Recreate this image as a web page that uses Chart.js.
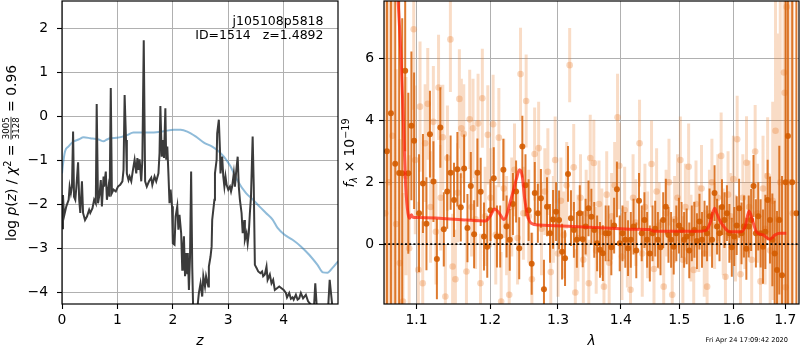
<!DOCTYPE html>
<html>
<head>
<meta charset="utf-8">
<script src="https://cdn.jsdelivr.net/npm/chart.js@4.4.1/dist/chart.umd.min.js"></script>
<style>
  html, body { margin: 0; padding: 0; background: #fff; }
  #wrap { position: relative; width: 800px; height: 350px; overflow: hidden; }
  canvas { position: absolute; top: 0; }
  #pzChart { left: 0; }
  #specChart { left: 340px; }
</style>
</head>
<body>
<div id="wrap">
  <canvas id="pzChart" width="340" height="350"></canvas>
  <canvas id="specChart" width="460" height="350"></canvas>
</div>
<script>
/* ============================================================
   Redshift fit figure: p(z) on the left, 1D spectrum on the right
   ============================================================ */

// ── Left panel: log p(z) and scaled chi2 ─────────────────────
const zTicks  = [0, 1, 2, 3, 4];
const pzTicks = [-4, -3, -2, -1, 0, 1, 2];

const pzZ = [
  0, 0.018, 0.036, 0.078, 0.12, 0.138, 0.16, 0.18, 0.2, 0.217,
  0.24, 0.26, 0.29, 0.31, 0.33, 0.36, 0.38, 0.415, 0.45, 0.49,
  0.51, 0.55, 0.58, 0.61, 0.626, 0.65, 0.68, 0.70, 0.72, 0.75,
  0.76, 0.79, 0.81, 0.84, 0.86, 0.88, 0.90, 0.93, 0.97, 1.01,
  1.05, 1.09, 1.11, 1.13, 1.155, 1.17, 1.20, 1.22, 1.25, 1.28,
  1.31, 1.34, 1.36, 1.38, 1.40, 1.43, 1.45, 1.475, 1.50, 1.53,
  1.57, 1.61, 1.63, 1.67, 1.70, 1.74, 1.76, 1.775, 1.80, 1.82,
  1.84, 1.865, 1.88, 1.90, 1.92, 1.94, 1.96, 1.985, 2.0, 2.03,
  2.05, 2.08, 2.10, 2.12, 2.15, 2.17, 2.18, 2.20, 2.22, 2.24,
  2.26, 2.27, 2.29, 2.31, 2.33, 2.35, 2.37, 2.40, 2.43, 2.45,
  2.47, 2.50, 2.53, 2.55, 2.58, 2.60, 2.64, 2.65, 2.68, 2.70,
  2.71, 2.73, 2.75, 2.76, 2.79, 2.80, 2.83, 2.85, 2.86, 2.89,
  2.91, 2.93, 2.95, 2.97, 3.0, 3.03, 3.05, 3.07, 3.10, 3.12,
  3.14, 3.17, 3.19, 3.21, 3.24, 3.26, 3.29, 3.30, 3.33, 3.35,
  3.37, 3.39, 3.41, 3.44, 3.46, 3.48, 3.51, 3.54, 3.58, 3.61,
  3.63, 3.66, 3.69, 3.71, 3.75, 3.78, 3.81, 3.84, 3.88, 3.92,
  3.96, 4.0, 4.04, 4.06, 4.1, 4.13, 4.16, 4.18, 4.22, 4.25,
  4.28, 4.31, 4.35, 4.4, 4.44, 4.48, 4.51, 4.54, 4.57, 4.6,
  4.65, 4.7, 4.75, 4.8, 4.83, 4.86, 4.9, 4.95, 4.98
];
const pzLog = [
  -2.55, -1.79, -2.28, -2.05, -1.9, -1.6, -1.75, -1.6, -0.35, -1.83,
  -1.9, -1.6, -1.05, -1.9, -2.2, -1.48, -2.2, -2.36, -2.28, -2.13,
  -2.2, -2.09, -1.9, -1.98, 0.28, -1.98, -1.75, -1.45, -2.05, -1.37,
  -1.6, -1.26, -1.9, -1.6, -1.83, 0.64, -1.75, -1.67, -1.71, -1.6,
  -1.56, -1.48, -1.22, 0.48, -0.54, -1.3, -1.45, -1.37, -1.48, -1.22,
  -0.99, -1.3, -0.95, -1.22, -0.98, -1.48, -0.99, 1.73, -1.48, -1.6,
  -1.48, -1.4, -1.56, -1.37, -1.48, -1.3, -0.84, 0.23, -0.92, -0.54,
  -0.95, 0.18, -0.99, -0.69, -1.3, -1.98, -1.67, -2.05, -2.89, -2.92,
  -2.28, -2.05, -2.58, -2.24, -2.66, -3.49, -3.11, -2.73, -3.64, -3.11,
  -3.57, -3.11, -3.95, -3.19, -1.26, -3.42, -4.6, -4.8, -4.5, -4.27,
  -4.02, -3.8, -4.1, -3.64, -3.87, -3.64, -3.87, -3.42, -3.19, -2.96,
  -2.36, -2.13, -1.9, -1.3, -0.99, -0.39, -0.08, -0.77, -1.3, -0.92,
  -1.37, -1.6, -1.37, -1.56, -1.67, -1.6, -1.71, -1.6, -1.3, -1.6,
  -1.3, -0.92, -1.6, -1.9, -2.2, -2.66, -2.36, -2.81, -2.66, -2.89,
  -2.66, -2.2, -1.83, -0.46, -1.6, -3.38, -3.45, -3.53, -3.57, -3.53,
  -3.64, -3.6, -3.42, -3.72, -3.6, -3.8, -3.72, -3.95, -3.91, -3.87,
  -3.91, -3.95, -4.02, -4.12, -4.02, -4.15, -4.12, -4.17, -4.06, -4.17,
  -4.14, -4.02, -4.14, -4.06, -4.21, -4.27, -4.3, -4.5, -3.8, -4.4,
  -4.7, -4.8, -4.7, -4.4, -3.72, -4.1, -4.6, -4.7, -4.8
];

const chiZ = [
  0, 0.013, 0.054, 0.115, 0.2, 0.3, 0.39, 0.51, 0.66, 0.75,
  0.81, 0.87, 0.99, 1.08, 1.17, 1.29, 1.44, 1.655, 1.835, 2.02,
  2.14, 2.26, 2.41, 2.56, 2.71, 2.83, 2.92, 3.04, 3.16, 3.32,
  3.44, 3.56, 3.68, 3.8, 3.89, 4.01, 4.16, 4.31, 4.46, 4.61,
  4.71, 4.79, 4.88, 4.98
];
const chiVal = [
  -1.3, -1.14, -0.80, -0.69, -0.58, -0.53, -0.48, -0.50, -0.53, -0.57,
  -0.53, -0.50, -0.49, -0.47, -0.43, -0.37, -0.37, -0.37, -0.34, -0.31,
  -0.31, -0.35, -0.46, -0.60, -0.69, -0.80, -0.92, -1.14, -1.45, -1.75,
  -1.89, -2.05, -2.2, -2.35, -2.54, -2.69, -2.81, -2.96, -3.15, -3.38,
  -3.55, -3.56, -3.45, -3.3
];

const fieldName = "j105108p5818";
const idLine    = "ID=1514   z=1.4892";

// ── Right panel: spectrum ─────────────────────────────────────
const waveTicks = [1.1, 1.2, 1.3, 1.4, 1.5, 1.6, 1.7];
const fluxTicks = [0, 2, 4, 6];

// dark points (first grism) with 1-sigma errors
const darkWave = [
  1.0624, 1.0674, 1.0728, 1.0778, 1.0817, 1.0855, 1.0895, 1.0935, 1.0970, 1.1034,
  1.1085, 1.1131, 1.1177, 1.1223, 1.1269, 1.1315, 1.1361, 1.1407, 1.1453, 1.1499,
  1.1545, 1.1591, 1.1637, 1.1683, 1.1729, 1.1775, 1.1821, 1.1867, 1.1913, 1.1959,
  1.2005, 1.2051, 1.2097, 1.2143, 1.2189, 1.2235, 1.2281, 1.2327, 1.2373, 1.2419,
  1.2465, 1.2511, 1.2557, 1.2603, 1.2649, 1.2695, 1.2741, 1.2787, 1.2833, 1.2879,
  1.2925, 1.2971, 1.3017, 1.3063, 1.3109, 1.3155, 1.3201, 1.3247, 1.3293, 1.3339,
  1.3385, 1.3431, 1.3477, 1.3523, 1.3569, 1.3615, 1.3661, 1.3707, 1.3753, 1.3799,
  1.3845, 1.3891, 1.3937, 1.3983, 1.4029, 1.4075, 1.4121, 1.4167, 1.4213, 1.4259,
  1.4305, 1.4351, 1.4397, 1.4443, 1.4489, 1.4535, 1.4581, 1.4627, 1.4673, 1.4719,
  1.4765, 1.4811, 1.4857, 1.4903, 1.4949, 1.4995, 1.5041, 1.5087, 1.5133, 1.5179,
  1.5225, 1.5271, 1.5317, 1.5363, 1.5409, 1.5455, 1.5501, 1.5547, 1.5593, 1.5639,
  1.5685, 1.5731, 1.5777, 1.5823, 1.5869, 1.5915, 1.5961, 1.6007, 1.6053, 1.6099,
  1.6145, 1.6191, 1.6237, 1.6283, 1.6329, 1.6375, 1.6421, 1.6467, 1.6513, 1.6559,
  1.6605, 1.6651, 1.6697, 1.6743, 1.6789, 1.6835, 1.6881, 1.6935, 1.7006, 1.7053,
  1.7140, 1.7225
];
const darkFlux = [
  3.0, 4.23, 2.6, 2.3, 2.29, 5.6, 2.29, 3.82, 3.34, 1.0,
  1.96, 0.66, 3.55, 2.02, -0.48, 3.77, 0.48, 1.7, 2.31, 1.43,
  2.42, 1.19, 2.44, 0.52, 1.88, 0.32, 2.31, 1.69, 0.25, -0.08,
  1.1, 2.13, 0.25, 0.25, 2.4, 0.57, 0.14, 1.3, 1.7, -0.13,
  3.15, 1.9, 1.1, -0.63, 1.65, 1.0, 1.48, -1.45, 1.21, 0.35,
  0.8, 1.05, 0.78, -0.24, -0.45, 2.27, 0.84, 0.46, 0.14, 1.0,
  0.16, 0.57, 1.16, 0.89, 0.46, 0.03, -0.18, -0.29, 0.35, 0.35,
  -0.1, 0.6, 1.77, 0.03, 0.35, 0.14, -0.13, 0.14, 0.57, -0.2,
  1.4, 0.35, 0.78, 0.14, -0.3, 0.35, 0.5, 0.14, -0.1, 0.78,
  1.21, 0.3, 0.14, -0.08, 0.35, 0.6, 0.46, 0.14, 0.25, -0.2,
  0.35, 0.46, 0.1, 0.73, 0.14, 0.5, 0.35, 0.9, 0.14, 1.65,
  0.57, 0.35, 1.2, 0.78, 1.0, 0.35, -0.1, 0.25, 0.6, 1.16,
  0.35, 0.57, -0.15, 0.57, 0.78, 1.88, 0.35, 0.9, 0.35, -0.08,
  0.4, 1.43, 0.78, 0.14, -0.3, -0.83, 0.78, -1.0, 2.0, 3.49,
  2.0, 1.0
];
const darkErr = [
  15, 12, 9, 7, 5, 2.6, 2.6, 2.4, 2.2, 1.9,
  1.6, 1.5, 1.4, 1.3, 1.3, 1.3, 1.2, 1.2, 1.2, 1.2,
  1.2, 1.1, 1.1, 1.1, 1.1, 1.1, 1.1, 1.1, 1.1, 1.0,
  1.0, 1.0, 1.0, 1.0, 1.0, 1.0, 1.0, 1.0, 1.0, 1.0,
  1.0, 1.0, 1.0, 1.0, 1.0, 0.95, 0.95, 0.95, 0.95, 0.95,
  0.95, 0.95, 0.95, 0.9, 0.9, 0.9, 0.9, 0.9, 0.9, 0.9,
  0.9, 0.9, 0.9, 0.9, 0.9, 0.9, 0.9, 0.9, 0.9, 0.9,
  0.9, 0.9, 0.9, 0.9, 0.9, 0.9, 0.9, 0.9, 0.9, 0.9,
  0.9, 0.9, 0.9, 0.9, 0.9, 0.9, 0.9, 0.9, 0.9, 0.9,
  0.9, 0.9, 0.9, 0.9, 0.9, 0.9, 0.9, 0.9, 0.9, 0.9,
  0.9, 0.9, 0.9, 0.9, 0.9, 0.9, 0.9, 0.9, 0.9, 0.9,
  0.9, 0.9, 0.9, 0.9, 0.9, 0.95, 0.95, 0.95, 0.95, 0.95,
  1.0, 1.0, 1.0, 1.0, 1.0, 1.0, 1.1, 1.1, 1.1, 1.2,
  1.2, 1.3, 1.4, 1.5, 1.7, 1.9, 2.4, 3.2, 9, 10,
  14, 18
];

// light points (other orient.) with 1-sigma errors
const lightWave = [
  1.0602, 1.0648, 1.0694, 1.0740, 1.0786, 1.0827, 1.0866, 1.0906, 1.0965, 1.0985,
  1.1025, 1.1047, 1.1082, 1.1114, 1.1148, 1.1185, 1.1222, 1.1256, 1.1291, 1.1320,
  1.1348, 1.1382, 1.1410, 1.1450, 1.1480, 1.1518, 1.1549, 1.1572, 1.1599, 1.1632,
  1.1669, 1.1714, 1.1740, 1.1760, 1.1795, 1.1830, 1.1864, 1.1890, 1.1930, 1.1967,
  1.2005, 1.2042, 1.2080, 1.2124, 1.2157, 1.2195, 1.2235, 1.2273, 1.2310, 1.2350,
  1.2395, 1.2438, 1.2480, 1.2521, 1.2560, 1.2606, 1.2647, 1.2707, 1.2750, 1.2800,
  1.2846, 1.2890, 1.2930, 1.2957, 1.3000, 1.3045, 1.3090, 1.3135, 1.3181, 1.3244,
  1.3269, 1.3310, 1.3350, 1.3395, 1.3440, 1.3482, 1.3505, 1.3562, 1.3600, 1.3645,
  1.3690, 1.3725, 1.3770, 1.3810, 1.3850, 1.3900, 1.3947, 1.3975, 1.4020, 1.4065,
  1.4110, 1.4162, 1.4205, 1.4250, 1.4314, 1.4360, 1.4405, 1.4450, 1.4518, 1.4560,
  1.4605, 1.4650, 1.4728, 1.4770, 1.4820, 1.4877, 1.4920, 1.4970, 1.5020, 1.5065,
  1.5110, 1.5168, 1.5210, 1.5259, 1.5300, 1.5350, 1.5400, 1.5450, 1.5502, 1.5545,
  1.5590, 1.5640, 1.5700, 1.5761, 1.5800, 1.5841, 1.5890, 1.5940, 1.5990, 1.6030,
  1.6062, 1.6125, 1.6170, 1.6210, 1.6240, 1.6290, 1.6340, 1.6407, 1.6450, 1.6511,
  1.6560, 1.6600, 1.6650, 1.6700, 1.6750, 1.6806, 1.6850, 1.6900, 1.6974, 1.6988,
  1.7006, 1.7030, 1.7080, 1.7150
];
const lightFlux = [
  1.0, 2.0, 3.5, 0.65, -0.61, -1.85, 2.2, -0.13, 6.94, 2.72,
  -0.83, 4.44, -1.26, 3.26, 4.53, 1.2, 3.95, 0.4, 5.06, 1.5,
  3.45, -1.69, 2.78, 6.61, -0.72, -1.13, 1.66, 4.69, 3.74, 3.56,
  -0.88, 4.03, 1.2, 3.74, 0.8, 3.9, -1.26, 4.71, 0.9, 3.53,
  1.5, 3.87, 0.3, 3.44, -1.85, 1.8, 0.6, -1.63, 1.2, 2.4,
  0.2, 5.49, 1.0, 4.62, 0.9, -1.13, 2.91, 3.1, 0.5, 1.7,
  2.34, -0.9, 0.8, 2.72, -0.3, 1.4, 0.3, 1.9, 5.78, 2.48,
  -1.56, 0.2, 1.5, -0.5, 1.0, -1.26, 2.78, 2.62, -0.2, 1.3,
  0.4, -1.37, 1.6, -0.6, 0.9, 1.9, 4.1, 2.53, -0.4, 1.1,
  0.0, -1.47, 1.5, 0.7, 3.26, -0.3, 1.2, 0.3, 2.59, -0.8,
  1.7, 0.6, -1.37, 1.0, 2.0, -1.63, 0.8, 1.5, 2.72, -0.5,
  1.2, 2.5, 0.2, -0.83, 1.3, 0.5, 1.8, -0.3, -1.37, 1.0,
  2.0, 0.6, 1.5, 2.85, 0.4, -1.05, 1.6, 0.9, 2.1, 0.2,
  3.39, -0.97, 1.5, 0.6, 2.63, 1.2, -0.5, 2.99, 1.0, -1.2,
  1.8, 0.5, 2.2, -0.2, 1.4, 3.66, 0.8, 2.0, 5.54, 4.89,
  -1.39, 7.66, 2.0, 1.0
];
const lightErr = [
  16, 10, 7, 5, 4, 3.5, 3.2, 3.0, 2.6, 2.4,
  2.2, 2.1, 2.0, 1.9, 1.8, 1.8, 1.8, 1.7, 1.7, 1.7,
  1.7, 1.7, 1.7, 1.7, 1.7, 1.6, 1.6, 1.6, 1.6, 1.6,
  1.6, 1.6, 1.6, 1.6, 1.6, 1.6, 1.6, 1.6, 1.6, 1.6,
  1.6, 1.6, 1.6, 1.6, 1.6, 1.6, 1.6, 1.6, 1.6, 1.5,
  1.5, 1.5, 1.5, 1.5, 1.5, 1.5, 1.5, 1.5, 1.5, 1.4,
  1.4, 1.4, 1.4, 1.4, 1.4, 1.4, 1.4, 1.4, 1.2, 1.4,
  1.4, 1.4, 1.4, 1.4, 1.4, 1.4, 1.4, 1.4, 1.4, 1.4,
  1.4, 1.4, 1.4, 1.4, 1.4, 1.4, 1.4, 1.4, 1.4, 1.4,
  1.4, 1.4, 1.4, 1.4, 1.4, 1.4, 1.4, 1.4, 1.4, 1.4,
  1.4, 1.4, 1.4, 1.4, 1.4, 1.4, 1.4, 1.4, 1.4, 1.4,
  1.4, 1.4, 1.4, 1.4, 1.4, 1.4, 1.4, 1.4, 1.4, 1.4,
  1.4, 1.4, 1.4, 1.4, 1.4, 1.4, 1.4, 1.4, 1.4, 1.4,
  1.4, 1.4, 1.4, 1.4, 1.5, 1.5, 1.5, 1.5, 1.6, 1.6,
  1.7, 1.8, 1.9, 2.4, 3.2, 4.5, 6, 7, 8, 9,
  10, 10, 12, 15
];

// best-fit model
const modelWave = [
  1.072, 1.0764, 1.0807, 1.0837, 1.0862, 1.0891, 1.0913, 1.0935, 1.0955, 1.100,
  1.1305, 1.1667, 1.193, 1.2000, 1.2065, 1.2130, 1.2197, 1.2305, 1.2377, 1.2423,
  1.2463, 1.2497, 1.2546, 1.2596, 1.2720, 1.3230, 1.3762, 1.4204, 1.4500, 1.4560,
  1.5400, 1.5487, 1.5560, 1.5640, 1.5680, 1.5733, 1.5820, 1.5920, 1.6142, 1.6220,
  1.6288, 1.6350, 1.6431, 1.6559, 1.6691, 1.6800, 1.6889, 1.7020
];
const modelFlux = [
  9.5, 7.9, 5.73, 3.58, 1.86, 1.0, 0.84, 0.95, 0.87, 0.86,
  0.84, 0.78, 0.75, 0.9, 1.14, 1.0, 0.8, 1.5, 2.1, 2.4,
  2.2, 1.5, 0.9, 0.68, 0.62, 0.57, 0.52, 0.48, 0.47, 0.42,
  0.42, 0.45, 0.7, 1.16, 1.0, 0.78, 0.55, 0.40, 0.40, 0.6,
  1.07, 0.8, 0.4, 0.3, 0.16, 0.3, 0.35, 0.35
];

const stamp = "Fri Apr 24 17:09:42 2020";

// ── Style constants ──────────────────────────────────────────
const FONT = '"DejaVu Sans", sans-serif';
const FS = 13.9;
const GRID = "#b0b0b0";
const up = `${FS}px ${FONT}`;
const it = `italic ${FS}px ${FONT}`;
const small = `9.7px ${FONT}`;
const smallIt = `italic 9.7px ${FONT}`;
const fracFont = `8.6px ${FONT}`;

const Z_RANGE = [0, 4.98];
const PZ_RANGE = [-4.27, 2.62];
const WAVE_RANGE = [1.0587, 1.7278];
const FLUX_RANGE = [-1.93, 7.85];

// ── Helpers ──────────────────────────────────────────────────
const fmtTick = v => (v < 0 ? "\u2212" + Math.abs(v) : String(v));

function xy(xs, ys) {
    return xs.map((x, i) => ({ x, y: ys[i] }));
}

// vertical error segments, separated by gaps
function errSegments(xs, ys, es) {
    const out = [];
    xs.forEach((x, i) => {
        out.push({ x, y: ys[i] - es[i] }, { x, y: ys[i] + es[i] }, { x, y: null });
    });
    return out;
}

function runWidth(ctx, r) {
    ctx.font = r.font;
    if (r.frac) {
        return Math.max(ctx.measureText(r.frac[0]).width, ctx.measureText(r.frac[1]).width) + 2;
    }
    return ctx.measureText(r.text).width;
}

function drawRuns(ctx, runs, x, y) {
    runs.forEach(r => {
        const w = runWidth(ctx, r);
        ctx.font = r.font;
        if (r.frac) {
            ctx.textAlign = "center";
            ctx.fillText(r.frac[0], x + w / 2, y - 6.8);
            ctx.fillText(r.frac[1], x + w / 2, y + 3.0);
            ctx.fillRect(x + 0.5, y - 5.4, w - 1, 0.8);
            ctx.textAlign = "left";
        } else {
            ctx.fillText(r.text, x, y + (r.dy || 0));
        }
        x += w;
    });
}

function drawRotated(ctx, runs, bx, cy) {
    const total = runs.reduce((s, r) => s + runWidth(ctx, r), 0);
    ctx.save();
    ctx.translate(bx, cy);
    ctx.rotate(-Math.PI / 2);
    ctx.textAlign = "left";
    ctx.textBaseline = "alphabetic";
    drawRuns(ctx, runs, -total / 2, 0);
    ctx.restore();
}

function axisOpts(range, ticks, pad, extra) {
    return Object.assign({
        min: range[0],
        max: range[1],
        afterBuildTicks: s => { s.ticks = ticks.map(v => ({ value: v })); },
        grid: { color: GRID, lineWidth: 1, drawTicks: true, tickLength: 5, tickColor: "#000", tickWidth: 1.1 },
        border: { display: false },
        ticks: { color: "#000", font: { family: FONT, size: FS }, autoSkip: false, maxRotation: 0,
                 padding: pad, callback: fmtTick }
    }, extra);
}

// fixed axis box sizes, no automatic label padding
function fixHeight(h) {
    return s => { s.height = h; s.paddingLeft = 0; s.paddingRight = 0; s.paddingTop = 0; s.paddingBottom = 0; };
}
function fixWidth(w) {
    return s => { s.width = w; s.paddingLeft = 0; s.paddingRight = 0; s.paddingTop = 0; s.paddingBottom = 0; };
}

function boxFrame(ctx, a) {
    ctx.save();
    ctx.strokeStyle = "#000";
    ctx.lineWidth = 1.2;
    ctx.strokeRect(a.left, a.top, a.right - a.left, a.bottom - a.top);
    ctx.restore();
}

Chart.defaults.font.family = FONT;
Chart.defaults.color = "#000";

// ── Left chart ───────────────────────────────────────────────
const pzDecor = {
    id: "pzDecor",
    afterDraw(chart) {
        const { ctx, chartArea: a } = chart;
        boxFrame(ctx, a);
        ctx.save();
        ctx.fillStyle = "#000";
        ctx.textBaseline = "alphabetic";
        ctx.textAlign = "right";
        ctx.font = `12.5px ${FONT}`;
        ctx.fillText(fieldName, 323.5, 24.5);
        ctx.fillText(idLine, 323.5, 39);
        ctx.textAlign = "center";
        ctx.font = it;
        ctx.fillText("z", (a.left + a.right) / 2, 345);
        drawRotated(ctx, [
            { text: "log", font: up },
            { text: " ", font: up },
            { text: "p", font: it },
            { text: "(", font: up },
            { text: "z", font: it },
            { text: ")", font: up },
            { text: " / ", font: up },
            { text: "\u03c7", font: it },
            { text: "2", font: small, dy: -5.5 },
            { text: " = ", font: up },
            { frac: ["3005", "3128"], font: fracFont },
            { text: " = 0.96", font: up }
        ], 16, 153);
        ctx.restore();
    }
};

new Chart(document.getElementById("pzChart"), {
    type: "line",
    data: {
        datasets: [
            {
                label: "log p(z)",
                data: xy(pzZ, pzLog),
                borderColor: "#3b3b3b",
                borderWidth: 2,
                pointRadius: 0,
                tension: 0,
                clip: 0,
                order: 1
            },
            {
                label: "chi2",
                data: xy(chiZ, chiVal),
                borderColor: "rgba(31,119,180,0.5)",
                borderWidth: 2,
                pointRadius: 0,
                cubicInterpolationMode: "monotone",
                clip: 0,
                order: 2
            }
        ]
    },
    options: {
        responsive: false,
        animation: false,
        devicePixelRatio: 1,
        events: [],
        layout: { autoPadding: false, padding: { top: 1, right: 2, left: 0, bottom: 0 } },
        plugins: { legend: { display: false }, tooltip: { enabled: false } },
        scales: {
            x: axisOpts(Z_RANGE, zTicks, 3, { type: "linear", afterFit: fixHeight(46) }),
            y: axisOpts(PZ_RANGE, pzTicks, 9, { type: "linear", afterFit: fixWidth(62) })
        }
    },
    plugins: [pzDecor]
});
</script>
<script>
// ── Right chart ──────────────────────────────────────────────
const specDecor = {
    id: "specDecor",
    afterDraw(chart) {
        const { ctx, chartArea: a } = chart;
        boxFrame(ctx, a);
        ctx.save();
        ctx.fillStyle = "#000";
        ctx.textBaseline = "alphabetic";
        ctx.textAlign = "center";
        ctx.font = it;
        ctx.fillText("\u03bb", (a.left + a.right) / 2, 345);
        ctx.textAlign = "right";
        ctx.font = `6.6px ${FONT}`;
        ctx.fillText(stamp, 448, 342);
        drawRotated(ctx, [
            { text: "f", font: it },
            { text: "\u03bb", font: smallIt, dy: 3 },
            { text: " \u00d7 10", font: up },
            { text: "\u221219", font: small, dy: -5.5 }
        ], 14, 153);
        ctx.restore();
    }
};

const pointOpts = { showLine: false, pointBorderWidth: 0, clip: 0 };
const barOpts = { pointRadius: 0, spanGaps: false, tension: 0, clip: 0 };

new Chart(document.getElementById("specChart"), {
    type: "line",
    data: {
        datasets: [
            Object.assign({
                label: "zero",
                data: [{ x: WAVE_RANGE[0], y: 0 }, { x: WAVE_RANGE[1], y: 0 }],
                borderColor: "#000",
                borderWidth: 1.8,
                borderDash: [2, 2.2],
                order: 1
            }, barOpts),
            {
                label: "model",
                data: xy(modelWave, modelFlux),
                borderColor: "rgba(255,30,10,0.72)",
                borderWidth: 3,
                pointRadius: 0,
                cubicInterpolationMode: "monotone",
                clip: 0,
                order: 2
            },
            Object.assign({
                label: "dark pts",
                data: xy(darkWave, darkFlux),
                pointRadius: 3,
                pointBackgroundColor: "rgba(212,92,0,0.9)",
                order: 3
            }, pointOpts),
            Object.assign({
                label: "dark err",
                data: errSegments(darkWave, darkFlux, darkErr),
                borderColor: "rgba(216,100,12,0.85)",
                borderWidth: 2,
                order: 4
            }, barOpts),
            Object.assign({
                label: "light pts",
                data: xy(lightWave, lightFlux),
                pointRadius: 3.3,
                pointBackgroundColor: "rgba(232,128,50,0.32)",
                order: 5
            }, pointOpts),
            Object.assign({
                label: "light err",
                data: errSegments(lightWave, lightFlux, lightErr),
                borderColor: "rgba(232,128,50,0.28)",
                borderWidth: 3,
                order: 6
            }, barOpts)
        ]
    },
    options: {
        responsive: false,
        animation: false,
        devicePixelRatio: 1,
        events: [],
        layout: { autoPadding: false, padding: { top: 1, right: 1, left: 0, bottom: 0 } },
        plugins: { legend: { display: false }, tooltip: { enabled: false } },
        scales: {
            x: axisOpts(WAVE_RANGE, waveTicks, 3, {
                type: "logarithmic",
                afterFit: fixHeight(46),
                ticks: { color: "#000", font: { family: FONT, size: FS }, autoSkip: false, maxRotation: 0, padding: 3,
                         callback: v => Number(v).toFixed(1) }
            }),
            y: axisOpts(FLUX_RANGE, fluxTicks, 5, { type: "linear", afterFit: fixWidth(44) })
        }
    },
    plugins: [specDecor]
});
</script>
</body>
</html>
